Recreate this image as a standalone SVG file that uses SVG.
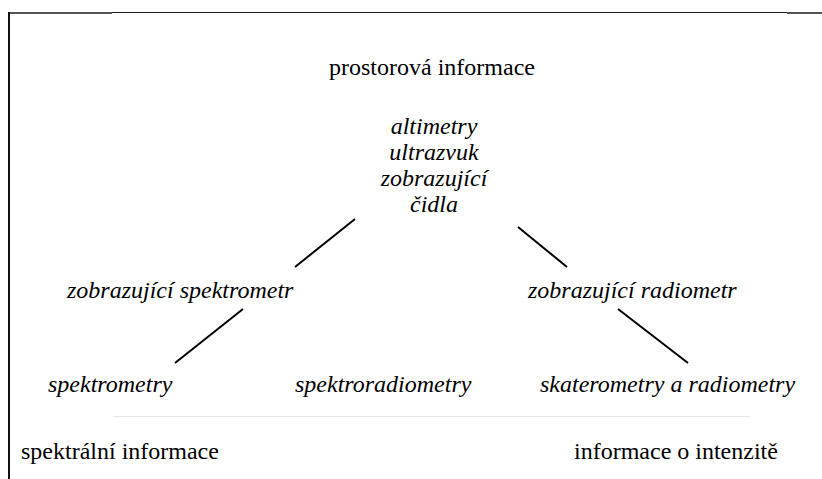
<svg xmlns="http://www.w3.org/2000/svg" width="822" height="479" viewBox="0 0 822 479">
  <style>
    text { font-family: 'Liberation Serif', 'Times New Roman', Times, serif; font-size: 24px; fill: #000; }
    .it { font-style: italic; }
    .mid { text-anchor: middle; }
    .edge { stroke: #000; stroke-width: 2; fill: none; }
  </style>
  <rect x="0" y="0" width="822" height="479" fill="#fff"/>

  <!-- frame -->
  <g id="frame">
    <line x1="8" y1="12.5" x2="822" y2="12.5" stroke="#222" stroke-width="1.2"/>
    <line x1="8" y1="13" x2="112" y2="13" stroke="#555" stroke-width="2"/>
    <line x1="787" y1="13" x2="822" y2="13" stroke="#555" stroke-width="2"/>
    <line x1="9" y1="12" x2="9" y2="479" stroke="#111" stroke-width="2"/>
    <line x1="113" y1="416.5" x2="750" y2="416.5" stroke="#e6e6e6" stroke-width="1"/>
  </g>

  <!-- connectors -->
  <g id="connectors">
    <line class="edge" x1="355" y1="219" x2="295" y2="267"/>
    <line class="edge" x1="243" y1="309" x2="175" y2="363"/>
    <line class="edge" x1="518" y1="227" x2="567" y2="267"/>
    <line class="edge" x1="618" y1="309" x2="688" y2="363"/>
  </g>

  <g id="spatial-info">
    <text class="mid" x="432" y="75">prostorová informace</text>
  </g>

  <g id="top-sensors">
    <text class="it mid" x="434" y="134">altimetry</text>
    <text class="it mid" x="434" y="160">ultrazvuk</text>
    <text class="it mid" x="434" y="186">zobrazující</text>
    <text class="it mid" x="434" y="212">čidla</text>
  </g>

  <g id="imaging-spectrometer">
    <text class="it" x="67" y="298">zobrazující spektrometr</text>
  </g>

  <g id="imaging-radiometer">
    <text class="it" x="528" y="298">zobrazující radiometr</text>
  </g>

  <g id="spectrometers">
    <text class="it" x="48" y="392">spektrometry</text>
  </g>

  <g id="spectroradiometers">
    <text class="it" x="295" y="392">spektroradiometry</text>
  </g>

  <g id="scatterometers">
    <text class="it" x="540" y="392">skaterometry a radiometry</text>
  </g>

  <g id="spectral-info">
    <text x="21" y="459">spektrální informace</text>
  </g>

  <g id="intensity-info">
    <text x="574" y="459">informace o intenzitě</text>
  </g>
</svg>
